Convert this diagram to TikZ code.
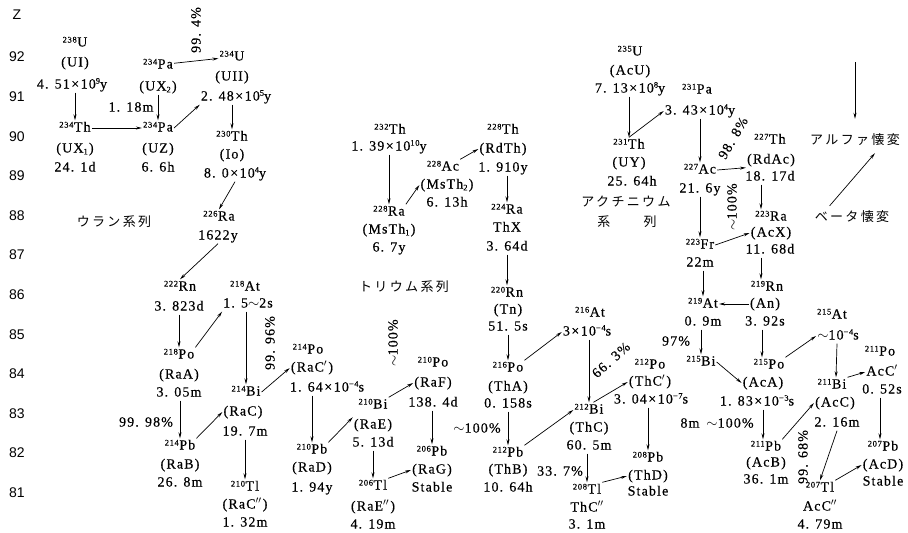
\documentclass[tikz,border=0pt]{standalone}
\usepackage{fontspec}
\setmainfont{Liberation Serif}[LetterSpace=8,FakeBold=0.4]
\newfontfamily\zfont{Liberation Sans}
\newfontfamily\cjk{Noto Sans CJK JP}[LetterSpace=18]
\usetikzlibrary{arrows.meta,calc}
\newcommand\fs{\fontsize{14}{16}\selectfont}
\newcommand\mss[1]{\raisebox{0.62ex}{\fontsize{8.5}{8.5}\selectfont #1}\kern0.5pt}
\newcommand\expo[1]{\raisebox{0.75ex}{\fontsize{8.5}{8.5}\selectfont #1}}
\newcommand\subn[1]{\raisebox{-0.3ex}{\fontsize{8.5}{8.5}\selectfont #1}}
\newcommand\X{\hspace{1.5pt}×\hspace{1.5pt}}
\newcommand\wv{$\sim$}
\newcommand\pr[1]{(\kern1.2pt#1\kern1.2pt)}
\begin{document}
\begin{tikzpicture}[x=1pt,y=-1pt,
  nuc/.style={inner sep=1pt,text height=10pt,text depth=3pt,font=\fs},
  lab/.style={inner sep=1pt,font=\fs},
  zl/.style={inner sep=1pt,font=\zfont\fontsize{14}{16}\selectfont},
  jp/.style={inner sep=1pt,font=\cjk\fontsize{13}{15}\selectfont},
  arr/.style={-{Stealth[length=6pt,width=3pt]},line width=0.7pt}]
\useasboundingbox (0,0) rectangle (908,533);
% Z axis
\node[zl] (zz) at (17,15) {Z};
\foreach \z [count=\i from 0] in {92,91,...,81} {
  \node[zl] (z\z) at (17,{57+\i*39.6}) {\z};
}
% ---------------- Uranium series
\node[nuc] (u238) at (75,43) {\mss{238}U};
\node[nuc] (u238n) at (75,63) {\pr{UI}};
\node[nuc] (u238t) at (72,85) {4. 51\X10\expo{9}y};
\node[nuc] (th234) at (75,128) {\mss{234}Th};
\node[nuc] (th234n) at (75,149) {\pr{UX\subn{1}}};
\node[nuc] (th234t) at (75,168) {24. 1d};
\node[nuc] (pa234m) at (158,65) {\mss{234}Pa};
\node[nuc] (pa234mn) at (158,87) {\pr{UX\subn{2}}};
\node[lab] (l118) at (131,107) {1. 18m};
\node[nuc] (pa234) at (158,128) {\mss{234}Pa};
\node[nuc] (pa234n) at (158,149) {\pr{UZ}};
\node[nuc] (pa234t) at (158,168) {6. 6h};
\node[lab,rotate=90] (l994) at (196,30) {99. 4\%};
\node[nuc] (u234) at (232,57) {\mss{234}U};
\node[nuc] (u234n) at (232,77) {\pr{UII}};
\node[nuc] (u234t) at (236,97) {2. 48\X10\expo{5}y};
\node[nuc] (th230) at (232,137) {\mss{230}Th};
\node[nuc] (th230n) at (232,155) {\pr{Io}};
\node[nuc] (th230t) at (235,174) {8. 0\X10\expo{4}y};
\node[nuc] (ra226) at (219,217) {\mss{226}Ra};
\node[nuc] (ra226t) at (218,236) {1622y};
\node[nuc] (rn222) at (180,287) {\mss{222}Rn};
\node[nuc] (rn222t) at (179,307) {3. 823d};
\node[nuc] (at218) at (245,287) {\mss{218}At};
\node[nuc] (at218t) at (248,304) {1. 5\wv2s};
\node[nuc] (po218) at (179,355) {\mss{218}Po};
\node[nuc] (po218n) at (179,375) {\pr{RaA}};
\node[nuc] (po218t) at (179,393) {3. 05m};
\node[lab] (l9998) at (146,422) {99. 98\%};
\node[nuc] (pb214) at (180,446) {\mss{214}Pb};
\node[nuc] (pb214n) at (180,465) {\pr{RaB}};
\node[nuc] (pb214t) at (180,483) {26. 8m};
\node[nuc] (bi214) at (246,392) {\mss{214}Bi};
\node[nuc] (bi214n) at (243,412) {\pr{RaC}};
\node[nuc] (bi214t) at (245,432) {19. 7m};
\node[lab,rotate=90] (l9996) at (270,343) {99. 96\%};
\node[nuc] (po214) at (308,350) {\mss{214}Po};
\node[nuc] (po214n) at (312,368) {\pr{RaC$'$}};
\node[nuc] (po214t) at (327,388) {1. 64\X10\expo{−4}s};
\node[nuc] (tl210) at (245,487) {\mss{210}Tl};
\node[nuc] (tl210n) at (245,505) {\pr{RaC$''$}};
\node[nuc] (tl210t) at (245,523) {1. 32m};
\node[nuc] (pb210) at (312,450) {\mss{210}Pb};
\node[nuc] (pb210n) at (312,468) {\pr{RaD}};
\node[nuc] (pb210t) at (312,488) {1. 94y};
\node[nuc] (bi210) at (373,405) {\mss{210}Bi};
\node[nuc] (bi210n) at (373,425) {\pr{RaE}};
\node[nuc] (bi210t) at (373,443) {5. 13d};
\node[lab,rotate=90] (l100a) at (393,343) {\wv100\%};
\node[nuc] (po210) at (433,363) {\mss{210}Po};
\node[nuc] (po210n) at (433,383) {\pr{RaF}};
\node[nuc] (po210t) at (433,403) {138. 4d};
\node[nuc] (pb206) at (432,452) {\mss{206}Pb};
\node[nuc] (pb206n) at (432,470) {\pr{RaG}};
\node[nuc] (pb206t) at (432,488) {Stable};
\node[nuc] (tl206) at (373,486) {\mss{206}Tl};
\node[nuc] (tl206n) at (373,507) {\pr{RaE$''$}};
\node[nuc] (tl206t) at (373,525) {4. 19m};
\node[jp] (uran) at (114,222) {ウラン系列};
% ---------------- Thorium series
\node[nuc] (th232) at (390,130) {\mss{232}Th};
\node[nuc] (th232t) at (389,147) {1. 39\X10\expo{10}y};
\node[nuc] (ra228) at (389,212) {\mss{228}Ra};
\node[nuc] (ra228n) at (389,230) {\pr{MsTh\subn{1}}};
\node[nuc] (ra228t) at (389,248) {6. 7y};
\node[nuc] (ac228) at (443,167) {\mss{228}Ac};
\node[nuc] (ac228n) at (447,185) {\pr{MsTh\subn{2}}};
\node[nuc] (ac228t) at (447,203) {6. 13h};
\node[nuc] (th228) at (503,130) {\mss{228}Th};
\node[nuc] (th228n) at (503,149) {\pr{RdTh}};
\node[nuc] (th228t) at (503,168) {1. 910y};
\node[nuc] (ra224) at (507,210) {\mss{224}Ra};
\node[nuc] (ra224n) at (507,228) {ThX};
\node[nuc] (ra224t) at (507,247) {3. 64d};
\node[nuc] (rn220) at (507,293) {\mss{220}Rn};
\node[nuc] (rn220n) at (508,310) {\pr{Tn}};
\node[nuc] (rn220t) at (508,327) {51. 5s};
\node[nuc] (po216) at (508,368) {\mss{216}Po};
\node[nuc] (po216n) at (508,387) {\pr{ThA}};
\node[nuc] (po216t) at (508,404) {0. 158s};
\node[lab] (l100b) at (477,428) {\wv100\%};
\node[nuc] (pb212) at (508,453) {\mss{212}Pb};
\node[nuc] (pb212n) at (508,470) {\pr{ThB}};
\node[nuc] (pb212t) at (508,488) {10. 64h};
\node[nuc] (at216) at (590,313) {\mss{216}At};
\node[nuc] (at216t) at (587,332) {3\X10\expo{−4}s};
\node[nuc] (bi212) at (589,410) {\mss{212}Bi};
\node[nuc] (bi212n) at (589,428) {\pr{ThC}};
\node[nuc] (bi212t) at (589,446) {60. 5m};
\node[lab,rotate=42] (l663) at (611,360) {66. 3\%};
\node[nuc] (po212) at (650,365) {\mss{212}Po};
\node[nuc] (po212n) at (650,382) {\pr{ThC$'$}};
\node[nuc] (po212t) at (651,400) {3. 04\X10\expo{−7}s};
\node[nuc] (pb208) at (648,458) {\mss{208}Pb};
\node[nuc] (pb208n) at (648,476) {\pr{ThD}};
\node[nuc] (pb208t) at (648,492) {Stable};
\node[lab] (l337) at (560,471) {33. 7\%};
\node[nuc] (tl208) at (587,490) {\mss{208}Tl};
\node[nuc] (tl208n) at (587,508) {ThC$''$};
\node[nuc] (tl208t) at (587,525) {3. 1m};
\node[jp] (thor) at (404,287) {トリウム系列};
% ---------------- Actinium series
\node[nuc] (u235) at (630,52) {\mss{235}U};
\node[nuc] (u235n) at (630,71) {\pr{AcU}};
\node[nuc] (u235t) at (630,89) {7. 13\X10\expo{8}y};
\node[nuc] (th231) at (629,145) {\mss{231}Th};
\node[nuc] (th231n) at (629,163) {\pr{UY}};
\node[nuc] (th231t) at (632,182) {25. 64h};
\node[nuc] (pa231) at (697,90) {\mss{231}Pa};
\node[nuc] (pa231t) at (700,111) {3. 43\X10\expo{4}y};
\node[nuc] (ac227) at (700,170) {\mss{227}Ac};
\node[nuc] (ac227t) at (700,189) {21. 6y};
\node[lab,rotate=60] (l988) at (733,138) {98. 8\%};
\node[nuc] (th227) at (770,140) {\mss{227}Th};
\node[nuc] (th227n) at (771,160) {\pr{RdAc}};
\node[nuc] (th227t) at (770,177) {18. 17d};
\node[nuc] (ra223) at (771,217) {\mss{223}Ra};
\node[nuc] (ra223n) at (771,233) {\pr{AcX}};
\node[nuc] (ra223t) at (770,250) {11. 68d};
\node[lab,rotate=90] (l100c) at (732,207) {\wv100\%};
\node[nuc] (fr223) at (700,245) {\mss{223}Fr};
\node[nuc] (fr223t) at (700,263) {22m};
\node[nuc] (rn219) at (767,287) {\mss{219}Rn};
\node[nuc] (rn219n) at (765,304) {\pr{An}};
\node[nuc] (rn219t) at (765,322) {3. 92s};
\node[nuc] (at219) at (703,304) {\mss{219}At};
\node[nuc] (at219t) at (703,322) {0. 9m};
\node[lab] (l97) at (676,341) {97\%};
\node[nuc] (bi215) at (701,362) {\mss{215}Bi};
\node[lab] (bi215t) at (690,423) {8m};
\node[lab] (l100d) at (730,423) {\wv100\%};
\node[nuc] (po215) at (769,365) {\mss{215}Po};
\node[nuc] (po215n) at (763,383) {\pr{AcA}};
\node[nuc] (po215t) at (757,402) {1. 83\X10\expo{−3}s};
\node[nuc] (at215) at (832,315) {\mss{215}At};
\node[nuc] (at215t) at (838,336) {\wv10\expo{−4}s};
\node[nuc] (bi211) at (832,385) {\mss{211}Bi};
\node[nuc] (bi211n) at (835,403) {\pr{AcC}};
\node[nuc] (bi211t) at (837,423) {2. 16m};
\node[nuc] (pb211) at (766,447) {\mss{211}Pb};
\node[nuc] (pb211n) at (766,463) {\pr{AcB}};
\node[nuc] (pb211t) at (766,480) {36. 1m};
\node[nuc] (po211) at (880,352) {\mss{211}Po};
\node[nuc] (po211n) at (882,372) {AcC$'$};
\node[nuc] (po211t) at (882,390) {0. 52s};
\node[nuc] (pb207) at (883,447) {\mss{207}Pb};
\node[nuc] (pb207n) at (883,465) {\pr{AcD}};
\node[nuc] (pb207t) at (883,482) {Stable};
\node[lab,rotate=90] (l9968) at (803,457) {99. 68\%};
\node[nuc] (tl207) at (820,488) {\mss{207}Tl};
\node[nuc] (tl207n) at (820,507) {AcC$''$};
\node[nuc] (tl207t) at (820,525) {4. 79m};
\node[jp] (act1) at (626,202) {アクチニウム};
\node[jp] (act2) at (627,222) {系　　列};
% ---------------- Legend
\node[jp] (alpha) at (855,140) {アルファ懐変};
\node[jp] (beta) at (852,217) {ベータ懐変};
\coordinate (atop) at (855,62);
\draw[arr,shorten >=14pt] (atop) -- (alpha.north);
\draw[arr] ([shift={(16,-4)}]beta.north west) -- ([shift={(20,6)}]alpha.south);
% ---------------- Uranium arrows
\draw[arr] (u238t.south -| th234.north) -- (th234.north);
\draw[arr] (th234) -- (pa234);
\draw[arr] (pa234mn) -- (pa234);
\draw[arr] (pa234m) -- (u234);
\draw[arr] (pa234.east) -- (u234t.south west);
\draw[arr] (u234t.south -| th230.north) -- (th230.north);
\draw[arr] (th230t.south) -- (ra226.north);
\draw[arr] (ra226t.south) -- (rn222.north);
\draw[arr] (rn222t.south -| po218.north) -- (po218.north);
\draw[arr] (po218.north east) -- (at218t.south west);
\draw[arr] (po218t.south -| pb214.north) -- (pb214.north);
\draw[arr] (pb214.north east) -- (bi214n.west);
\draw[arr] (at218t.south -| bi214.north) -- (bi214.north);
\draw[arr] (bi214.east) -- (po214n.west);
\draw[arr] (bi214t.south -| tl210.north) -- (tl210.north);
\draw[arr] (po214t.south -| pb210.north) -- (pb210.north);
\draw[arr] (pb210.north east) -- (bi210n.north west);
\draw[arr] (bi210.north east) -- (po210n.west);
\draw[arr] (po210t.south -| pb206.north) -- (pb206.north);
\draw[arr] (bi210t.south -| tl206.north) -- (tl206.north);
\draw[arr] (tl206.north east) -- (pb206n.west);
% ---------------- Thorium arrows
\draw[arr] (th232t.south -| ra228.north) -- (ra228.north);
\draw[arr] (ra228.north east) -- (ac228n.west);
\draw[arr] (ac228.north east) -- (th228n.west);
\draw[arr] (th228t.south -| ra224.north) -- (ra224.north);
\draw[arr] (ra224t.south -| rn220.north) -- (rn220.north);
\draw[arr] (rn220t.south -| po216.north) -- (po216.north);
\draw[arr] (po216t.south -| pb212.north) -- (pb212.north);
\draw[arr] (po216.north east) -- (at216t.west);
\draw[arr] (at216t.south -| bi212.north) -- (bi212.north);
\draw[arr] (bi212.60) -- (po212n.west);
\draw[arr] (po212t.south -| pb208.north) -- (pb208.north);
\draw[arr] (pb212.north east) -- (bi212.west);
\draw[arr] (bi212t.south -| tl208.north) -- (tl208.north);
\draw[arr] (tl208.north east) -- (pb208n.west);
% ---------------- Actinium arrows
\draw[arr] (u235t.south -| th231.north) -- (th231.north);
\draw[arr] (th231.north) -- (pa231t.west);
\draw[arr] (pa231t.south -| ac227.north) -- (ac227.north);
\draw[arr] (ac227.east) -- (th227n.south west);
\draw[arr] ([xshift=-9pt]th227t.south) -- ([xshift=-10pt]ra223.north);
\draw[arr] (ac227t.south -| fr223.north) -- (fr223.north);
\draw[arr] (fr223.east) -- (ra223n.west);
\draw[arr] ([xshift=-9pt]ra223t.south) -- ([xshift=-6pt]rn219.north);
\draw[arr] (fr223t.south -| at219.north) -- (at219.north);
\draw[arr] (rn219n.west) -- (rn219n.west -| at219.east);
\draw[arr] (at219t.south -| bi215.north) -- (bi215.north);
\draw[arr] (bi215.east) -- (po215n.west);
\draw[arr] ([xshift=-3pt]rn219t.south) -- ([xshift=-7pt]po215.north);
\draw[arr] ([xshift=6pt]po215t.south) -- ([xshift=-3pt]pb211.north);
\draw[arr] (po215.north east) -- (at215t.west);
\draw[arr] ([xshift=-1pt]at215t.south) -- ([xshift=4pt]bi211.north);
\draw[arr] (pb211.north east) -- (bi211n.west);
\draw[arr] (bi211.north east) -- (po211n.west);
\draw[arr] ([xshift=-2pt]po211t.south) -- ([xshift=-3pt]pb207.north);
\draw[arr] (bi211t.south) -- (tl207.north);
\draw[arr] (tl207.north east) -- (pb207n.west);
\end{tikzpicture}
\end{document}
